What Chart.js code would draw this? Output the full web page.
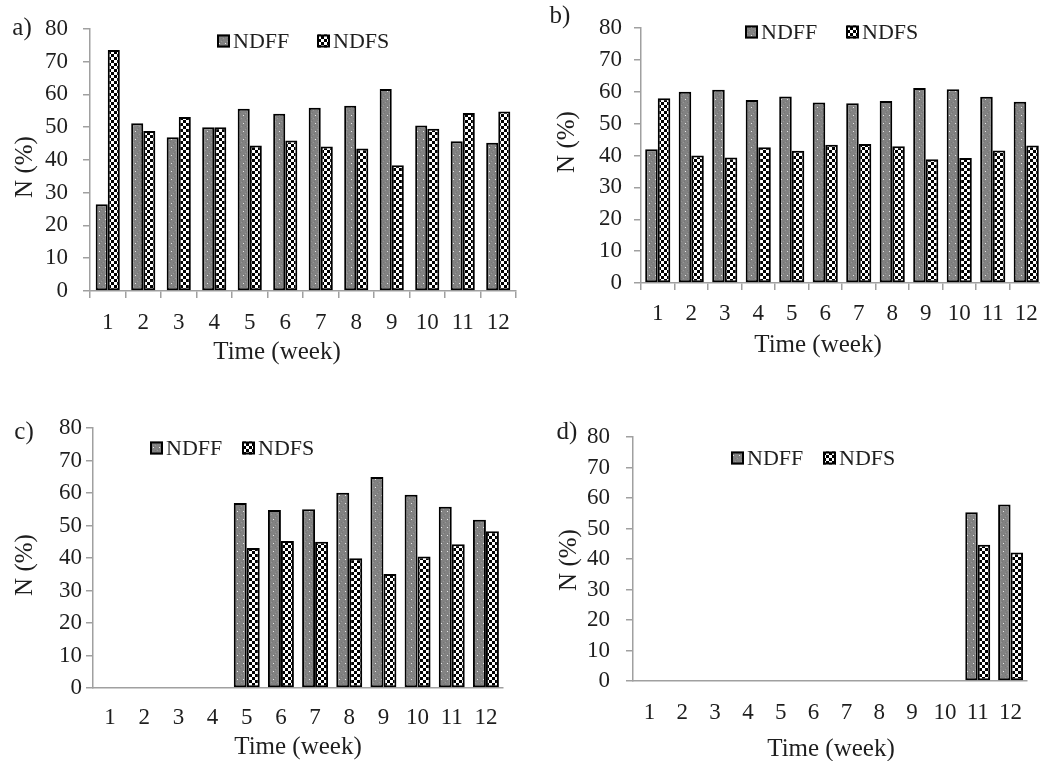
<!DOCTYPE html>
<html><head><meta charset="utf-8">
<script src="https://cdn.jsdelivr.net/npm/chart.js@4"></script>
<style>
html,body{margin:0;padding:0;background:#fff;overflow:hidden;width:1040px;height:761px;}
.panel{position:absolute;}
.lbl{position:absolute;font-family:"Liberation Serif","Times New Roman",serif;color:#1e1e1e;white-space:nowrap;transform:translate(-50%,-50%);line-height:1;font-size:25px;}
.rot{transform:translate(-50%,-50%) rotate(-90deg);}
</style></head><body>
<script>
// ---- data ----
const weeks = ['1','2','3','4','5','6','7','8','9','10','11','12'];
const seriesNames = ['NDFF','NDFS'];
const yMin = 0, yMax = 80, yStep = 10;
const ndffA = [26.5, 51.2, 46.9, 50.0, 55.6, 54.1, 55.9, 56.5, 61.6, 50.5, 45.7, 45.2];
const ndfsA = [73.5, 48.8, 53.1, 50.0, 44.4, 45.9, 44.1, 43.5, 38.4, 49.5, 54.3, 54.8];
const ndffB = [42.0, 60.0, 60.6, 57.4, 58.5, 56.6, 56.4, 57.1, 61.2, 60.8, 58.4, 56.9];
const ndfsB = [58.0, 40.0, 39.4, 42.6, 41.5, 43.4, 43.6, 42.9, 38.8, 39.2, 41.6, 43.1];
const ndffC = [null, null, null, null, 56.9, 54.8, 55.0, 60.1, 64.9, 59.5, 55.8, 51.8];
const ndfsC = [null, null, null, null, 43.1, 45.2, 45.0, 39.9, 35.1, 40.5, 44.2, 48.2];
const ndffD = [null, null, null, null, null, null, null, null, null, null, 55.3, 57.9];
const ndfsD = [null, null, null, null, null, null, null, null, null, null, 44.7, 42.1];
const panelLetters = ['a)','b)','c)','d)'];
const xTitle = 'Time (week)';
const yTitle = 'N (%)';

// ---- layout ----
const panels = [
  {left:0,   top:0,   w:540, h:370, ndff:ndffA, ndfs:ndfsA, yW:90,  xH:79, pad:{top:22,right:24}, yPad:15, xPad:11, xTicks:true,  cat:0.68, leg:[[217,41],[317,41]],
   letter:[22,26], yt:[23,167], xt:[277,350]},
  {left:520, top:0,   w:540, h:370, ndff:ndffB, ndfs:ndfsB, yW:121, xH:87, pad:{top:28,right:17}, yPad:12, xPad:10, xTicks:true,  cat:0.75, leg:[[225,32],[326,32]],
   letter:[560,14], yt:[565,142], xt:[818,343]},
  {left:0,   top:380, w:540, h:381, ndff:ndffC, ndfs:ndfsC, yW:93,  xH:73, pad:{top:48,right:37}, yPad:4,  xPad:16, xTicks:false, cat:0.76, leg:[[150,68],[242,68]],
   letter:[24,430], yt:[23,565], xt:[298,745]},
  {left:520, top:380, w:540, h:381, ndff:ndffD, ndfs:ndfsD, yW:113, xH:80, pad:{top:57,right:33}, yPad:16, xPad:18, xTicks:false, cat:0.76, leg:[[211,78],[303,78]],
   letter:[567,430], yt:[567,560], xt:[831,747]}
];

function makeDots(ctx){
  const c=document.createElement('canvas'); c.width=6; c.height=8;
  const g=c.getContext('2d');
  g.fillStyle='#828282'; g.fillRect(0,0,6,8);
  g.fillStyle='#767676'; g.fillRect(0,0,1,1); g.fillRect(2,5,1,1); g.fillRect(4,2,1,1); g.fillRect(5,6,1,1);
  g.fillStyle='#979797'; g.fillRect(1,6,1,1); g.fillRect(5,1,1,1);
  g.fillStyle='#e8e8e8'; g.fillRect(3,3,1,1);
  return ctx.createPattern(c,'repeat');
}
function makeCheck(ctx){
  const c=document.createElement('canvas'); c.width=6; c.height=6;
  const g=c.getContext('2d');
  g.fillStyle='#000'; g.fillRect(0,0,6,6);
  g.fillStyle='#fff'; g.fillRect(0,0,3,3); g.fillRect(3,3,3,3);
  return ctx.createPattern(c,'repeat');
}

const legendPlugin = {
  id:'patternLegend',
  afterDraw(chart, args, opts){
    const ctx = chart.ctx;
    chart.data.datasets.forEach((ds,i)=>{
      const p = opts.items[i];
      ctx.save();
      ctx.fillStyle = ds.backgroundColor;
      ctx.fillRect(p[0], p[1]-6.5, 13, 13);
      ctx.lineWidth = 2; ctx.strokeStyle = '#000';
      ctx.strokeRect(p[0]+1, p[1]-5.5, 11, 11);
      ctx.fillStyle = '#1e1e1e';
      ctx.font = '22px "Liberation Serif"';
      ctx.textBaseline = 'middle'; ctx.textAlign = 'left';
      ctx.fillText(ds.label, p[0]+16, p[1]+1);
      ctx.restore();
    });
  }
};

const axisColor = '#a0a0a0';
const font = {family:'"Liberation Serif"', size:23};

panels.forEach((P, idx)=>{
  const div = document.createElement('div');
  div.className='panel';
  div.style.left=P.left+'px'; div.style.top=P.top+'px';
  div.style.width=P.w+'px'; div.style.height=P.h+'px';
  const cv = document.createElement('canvas');
  cv.width=P.w; cv.height=P.h;
  cv.style.width=P.w+'px'; cv.style.height=P.h+'px';
  div.appendChild(cv);
  document.body.appendChild(div);
  const ctx = cv.getContext('2d');
  new Chart(ctx, {
    type:'bar',
    data:{
      labels: weeks,
      datasets:[
        {label:seriesNames[0], data:P.ndff, backgroundColor:makeDots(ctx), borderColor:'#000', borderWidth:2, borderSkipped:false},
        {label:seriesNames[1], data:P.ndfs, backgroundColor:makeCheck(ctx), borderColor:'#000', borderWidth:2, borderSkipped:false}
      ]
    },
    options:{
      responsive:false, animation:false, devicePixelRatio:1,
      layout:{padding:{left:0, top:P.pad.top, right:P.pad.right, bottom:0}},
      datasets:{bar:{barPercentage:1.0, categoryPercentage:P.cat}},
      plugins:{legend:{display:false}, tooltip:{enabled:false}, patternLegend:{items:P.leg}},
      scales:{
        x:{
          offset:true,
          grid:{display:true, offset:true, drawOnChartArea:false, drawTicks:P.xTicks, tickLength:7, color:axisColor, lineWidth:1.5},
          border:{display:true, color:axisColor, width:1.5},
          ticks:{font:font, color:'#1e1e1e', padding:P.xPad, maxRotation:0, autoSkip:false},
          afterFit(s){ s.height = P.xH; }
        },
        y:{
          min:yMin, max:yMax,
          grid:{display:true, drawOnChartArea:false, drawTicks:true, tickLength:7, color:axisColor, lineWidth:1.5},
          border:{display:true, color:axisColor, width:1.5},
          ticks:{stepSize:yStep, font:font, color:'#1e1e1e', padding:P.yPad, autoSkip:false},
          afterFit(s){ s.width = P.yW; }
        }
      }
    },
    plugins:[legendPlugin]
  });
  const addLbl=(txt,xy,rot)=>{
    const d=document.createElement('div');
    d.className='lbl'+(rot?' rot':'');
    d.textContent=txt; d.style.left=xy[0]+'px'; d.style.top=xy[1]+'px';
    document.body.appendChild(d);
  };
  addLbl(panelLetters[idx], P.letter, false);
  addLbl(yTitle, P.yt, true);
  addLbl(xTitle, P.xt, false);
});
</script>
</body></html>
